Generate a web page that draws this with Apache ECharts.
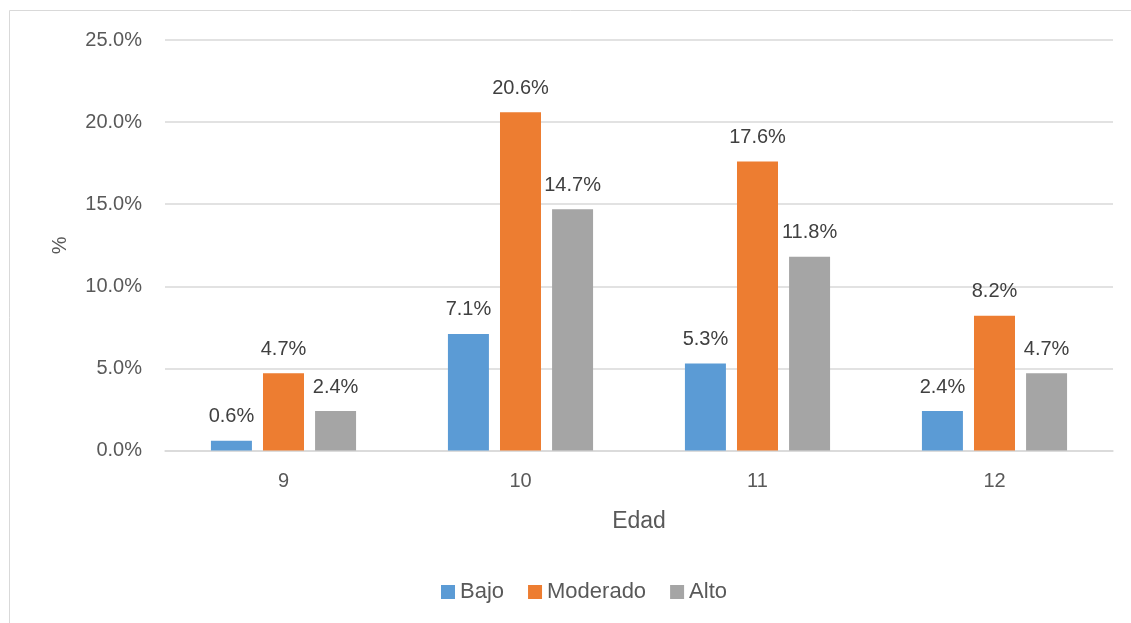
<!DOCTYPE html>
<html>
<head>
<meta charset="utf-8">
<script src="https://cdn.jsdelivr.net/npm/echarts@6/dist/echarts.min.js"></script>
<style>
  html, body { margin: 0; padding: 0; background: #fff; }
  #chart { width: 1131px; height: 623px; }
</style>
</head>
<body>
<div id="chart"></div>
<script>
// Age groups and share (%) by activity level
const categories = ['9', '10', '11', '12'];
const bajo = [0.6, 7.1, 5.3, 2.4];
const moderado = [4.7, 20.6, 17.6, 8.2];
const alto = [2.4, 14.7, 11.8, 4.7];
const seriesNames = ['Bajo', 'Moderado', 'Alto'];
const colors = ['#5b9bd5', '#ed7d31', '#a5a5a5'];

const font = '"Liberation Sans", Arial, sans-serif';
const labelStyle = {
  show: true,
  position: 'top',
  distance: 14,
  color: '#404040',
  fontSize: 20,
  fontFamily: font,
  formatter: p => p.value.toFixed(1) + '%'
};

function bar(name, data, color) {
  return {
    name: name,
    type: 'bar',
    data: data,
    barWidth: '17.3%',
    barGap: '27%',
    itemStyle: { color: color },
    label: labelStyle
  };
}

const chart = echarts.init(document.getElementById('chart'), null, { renderer: 'canvas' });
chart.setOption({
  animation: false,
  color: colors,
  graphic: [{
    type: 'rect',
    shape: { x: 9.5, y: 10.5, width: 1140, height: 640 },
    style: { fill: 'none', stroke: '#d9d9d9', lineWidth: 1 },
    silent: true
  }],
  grid: { left: 165, right: 18, top: 40, bottom: 172.5, containLabel: false },
  xAxis: {
    type: 'category',
    data: categories,
    name: 'Edad',
    nameLocation: 'middle',
    nameGap: 60,
    nameTextStyle: { color: '#595959', fontSize: 23, fontFamily: font },
    axisLine: { lineStyle: { color: '#d9d9d9', width: 1.5 } },
    axisTick: { show: false },
    axisLabel: { color: '#595959', fontSize: 20, fontFamily: font, margin: 21 }
  },
  yAxis: {
    type: 'value',
    min: 0,
    max: 25,
    interval: 5,
    name: '%',
    nameLocation: 'middle',
    nameGap: 95,
    nameRotate: 90,
    nameTextStyle: { color: '#595959', fontSize: 20, fontFamily: font },
    axisLine: { show: false },
    axisTick: { show: false },
    axisLabel: {
      color: '#595959', fontSize: 20, fontFamily: font, margin: 23,
      formatter: v => v.toFixed(1) + '%'
    },
    splitLine: { lineStyle: { color: '#d9d9d9', width: 1.5 } }
  },
  legend: {
    data: seriesNames,
    bottom: 15,
    left: 436,
    icon: 'rect',
    itemWidth: 14,
    itemHeight: 14,
    itemGap: 24,
    textStyle: { color: '#595959', fontSize: 22, fontFamily: font }
  },
  series: [
    bar(seriesNames[0], bajo, colors[0]),
    bar(seriesNames[1], moderado, colors[1]),
    bar(seriesNames[2], alto, colors[2])
  ]
});
</script>
</body>
</html>
